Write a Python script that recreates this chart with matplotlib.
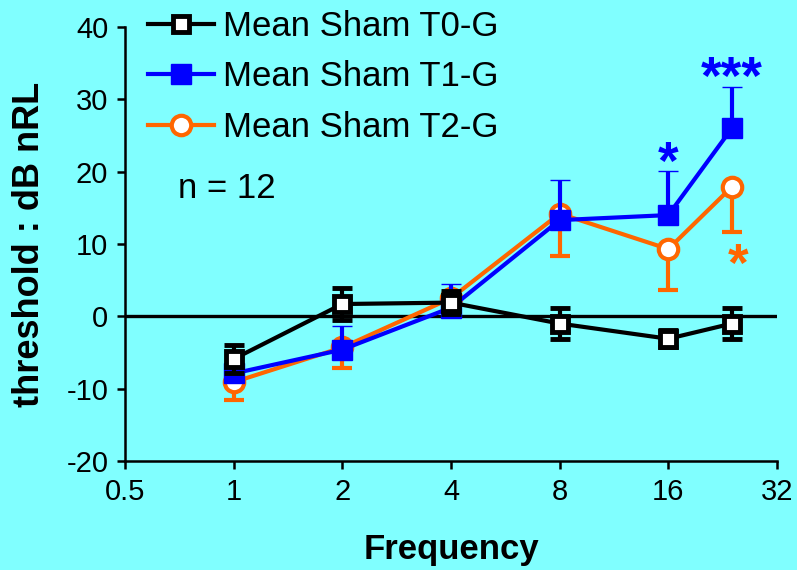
import numpy as np
import matplotlib
matplotlib.use("Agg")
import matplotlib.pyplot as plt

plt.rcParams['font.family'] = ['Liberation Sans', 'DejaVu Sans']
plt.rcParams['axes.unicode_minus'] = False

# values
freqs = [1, 2, 4, 8, 16, 24]
t0_mean = [-5.9, 1.7, 1.9, -1.0, -3.1, -1.0]
t0_sem = [1.9, 2.2, 1.6, 2.2, 1.2, 2.1]
t1_mean = [-7.9, -4.6, 1.2, 13.3, 14.0, 26.0]
t1_sem = [1.5, 3.2, 3.3, 5.6, 6.1, 5.7]
t2_mean = [-9.1, -4.3, 2.5, 14.2, 9.3, 17.9]
t2_sem = [2.5, 2.8, 1.5, 5.9, 5.6, 6.3]
labels = ["Mean Sham T0-G", "Mean Sham T1-G", "Mean Sham T2-G"]
xticks = [0.5, 1, 2, 4, 8, 16, 32]
xticklabels = ["0.5", "1", "2", "4", "8", "16", "32"]
yticks = [-20, -10, 0, 10, 20, 30, 40]

bg = "#80FFFF"
blue = "#0000FF"
orange = "#FF6600"

fig = plt.figure(figsize=(7.97, 5.70), dpi=100, facecolor=bg)
ax = fig.add_axes([125 / 797, 109 / 570, 652 / 797, 434 / 570])
ax.set_facecolor(bg)

ax.axhline(0, color="black", lw=2.4, zorder=1)

zeros = np.zeros(len(freqs))
common = dict(lw=3, capsize=7, capthick=3, elinewidth=3, markersize=14)

e2 = ax.errorbar(freqs, t2_mean, yerr=[t2_sem, zeros], color=orange, marker="o",
                 mfc="white", mec=orange, mew=3, zorder=2, **common)
e1 = ax.errorbar(freqs, t1_mean, yerr=[zeros, t1_sem], color=blue, marker="s",
                 mfc=blue, mec=blue, mew=1, zorder=3, **common)
e0 = ax.errorbar(freqs, t0_mean, yerr=[t0_sem, t0_sem], color="black", marker="s",
                 mfc="white", mec="black", mew=3.5, zorder=4, markersize=12,
                 lw=3, capsize=7, capthick=3, elinewidth=3)

ax.set_xscale("log", base=2)
ax.set_xlim(0.5, 32)
ax.set_ylim(-20, 40)
ax.set_xticks(xticks)
ax.set_xticklabels(xticklabels)
ax.xaxis.set_minor_locator(matplotlib.ticker.NullLocator())
ax.set_yticks(yticks)

for s in ["top", "right"]:
    ax.spines[s].set_visible(False)
for s in ["left", "bottom"]:
    ax.spines[s].set_linewidth(1.8)
ax.tick_params(direction="out", length=6, width=1.8, labelsize=21, pad=6)

ax.set_xlabel("Frequency", fontsize=25, fontweight="bold")
ax.set_ylabel("threshold : dB nRL", fontsize=26, fontweight="bold")
ax.xaxis.set_label_coords(0.5, -0.165)
ax.yaxis.set_label_coords(-0.12, 0.5)

ax.text(0.7, 17.7, "n = 12", fontsize=25, ha="left", va="center")

ax.text(16, 19.0, "*", color=blue, fontsize=38, fontweight="bold", ha="center", va="baseline")
ax.text(24, 30.8, "***", color=blue, fontsize=38, fontweight="bold", ha="center", va="baseline")
ax.text(25, 4.9, "*", color=orange, fontsize=38, fontweight="bold", ha="center", va="baseline")

handles = [e0.lines[0], e1.lines[0], e2.lines[0]]
leg = fig.legend(handles, labels, loc="upper left", bbox_to_anchor=(148 / 797, 1 - 10 / 570),
                 frameon=False, fontsize=25, handlelength=1.9, handletextpad=0.25,
                 labelspacing=0.5, borderpad=0, borderaxespad=0)

fig.savefig("out.png", dpi=100, facecolor=bg)
